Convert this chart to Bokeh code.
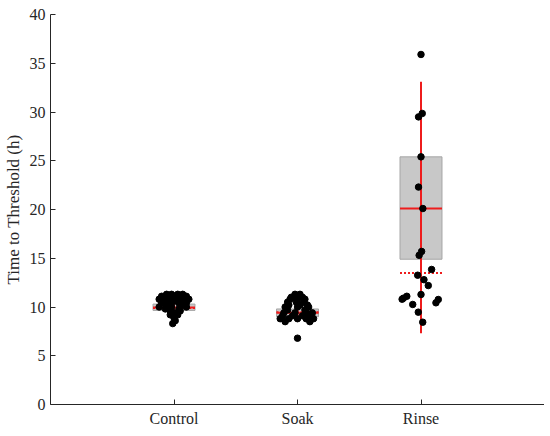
from bokeh.plotting import figure
from bokeh.models import ColumnDataSource, FixedTicker, Range1d
from bokeh.embed import file_html
from bokeh.resources import INLINE

# ---- data ----
categories = ["Control", "Soak", "Rinse"]
cat_pos = [1, 2, 3]

control_values = [11.3, 11.3, 11.3, 11.3, 11.1, 11.1, 11.1, 11.0, 11.0,
                  10.8, 10.8, 10.8, 10.8, 10.6, 10.6, 10.6, 10.4, 10.4, 10.4, 10.4,
                  10.2, 10.2, 10.0, 10.0, 10.0, 9.8, 9.8, 9.6, 9.6, 9.4,
                  9.2, 9.2, 8.9, 8.6, 8.3]
control_jitter = [-0.06, -0.02, 0.03, 0.07, -0.10, 0.0, 0.10, -0.05, 0.05,
                  -0.12, -0.03, 0.03, 0.12, -0.08, 0.0, 0.08, -0.10, -0.03, 0.04, 0.10,
                  -0.06, 0.06, -0.12, -0.02, 0.10, -0.07, 0.04, -0.03, 0.05, 0.0,
                  -0.03, 0.03, 0.0, 0.01, -0.01]

soak_values = [11.3, 11.3, 11.0, 11.0, 10.8, 10.8, 10.8, 10.5, 10.5, 10.5,
               10.2, 10.2, 10.2, 10.0, 10.0, 10.0, 9.7, 9.7,
               9.4, 9.4, 9.4, 9.4, 9.1, 9.1, 9.1, 9.1,
               8.8, 8.8, 8.8, 8.8, 8.8, 8.5, 8.5, 6.8]
soak_jitter = [-0.02, 0.02, -0.05, 0.04, -0.06, 0.0, 0.06, -0.08, -0.01, 0.05,
               -0.07, 0.02, 0.08, -0.10, 0.0, 0.09, -0.08, 0.06,
               -0.11, -0.02, 0.07, 0.12, -0.12, -0.04, 0.04, 0.11,
               -0.14, -0.07, 0.0, 0.07, 0.13, -0.10, 0.10, 0.0]

rinse_values = [35.9, 29.85, 29.5, 25.4, 22.3, 20.1, 15.7, 15.3, 13.85, 13.26,
                12.8, 12.2, 11.28, 11.1, 10.9, 10.8, 10.26, 10.77, 10.43, 9.47, 8.44]
rinse_jitter = [0.0, 0.01, -0.02, 0.0, -0.02, 0.015, 0.005, -0.015, 0.086, -0.027,
                0.024, 0.059, 0.0, -0.115, -0.143, -0.153, -0.067, 0.14, 0.121, -0.022, 0.014]

# summary statistics
means = [9.95, 9.4, 20.1]
ci_low = [9.65, 9.0, 14.9]
ci_high = [10.3, 9.8, 25.4]
sd_low = [9.2, 8.5, 7.3]
sd_high = [10.7, 10.3, 33.1]
medians = [9.9, 9.45, 13.5]

half_w = 0.17
serif = "Liberation Serif"

p = figure(frame_width=494, frame_height=390, output_backend="svg", toolbar_location=None,
           x_range=Range1d(0, 4), y_range=Range1d(0, 40),
           min_border_left=41, min_border_top=14, min_border_right=0, min_border_bottom=16)
p.outline_line_color = None
p.xgrid.visible = False
p.ygrid.visible = False

# boxes (CI)
box_src = ColumnDataSource(dict(x=cat_pos, bottom=ci_low, top=ci_high))
p.vbar(x="x", bottom="bottom", top="top", width=2 * half_w, source=box_src,
       fill_color="#c8c8c8", line_color="#a6a6a6", line_width=1)

# SD whisker
wsrc = ColumnDataSource(dict(x=cat_pos, y0=sd_low, y1=sd_high))
p.segment(x0="x", y0="y0", x1="x", y1="y1", source=wsrc, line_color="#ee1c1c", line_width=2)

# mean line
msrc = ColumnDataSource(dict(x0=[c - half_w for c in cat_pos], x1=[c + half_w for c in cat_pos], y=means))
p.segment(x0="x0", y0="y", x1="x1", y1="y", source=msrc, line_color="#ee1c1c", line_width=2)

# median dotted line
dsrc = ColumnDataSource(dict(x0=[c - half_w for c in cat_pos], x1=[c + half_w for c in cat_pos], y=medians))
p.segment(x0="x0", y0="y", x1="x1", y1="y", source=dsrc, line_color="#ee1c1c", line_width=2,
          line_dash="2 2")

# points
for pos, vals, jit in [(1, control_values, control_jitter), (2, soak_values, soak_jitter),
                       (3, rinse_values, rinse_jitter)]:
    src = ColumnDataSource(dict(x=[pos + j for j in jit], y=vals))
    p.scatter(x="x", y="y", source=src, size=6.5, fill_color="black", line_color="black")

# axes
p.xaxis.ticker = FixedTicker(ticks=cat_pos)
p.xaxis.major_label_overrides = {c: lab for c, lab in zip(cat_pos, categories)}
p.yaxis.ticker = FixedTicker(ticks=list(range(0, 41, 5)))
p.yaxis.axis_label = "Time to Threshold (h)"
for ax in (p.xaxis[0], p.yaxis[0]):
    ax.major_tick_in = 5
    ax.major_tick_out = 0
    ax.minor_tick_in = 0
    ax.minor_tick_out = 0
    ax.axis_line_color = "#262626"
    ax.major_tick_line_color = "#262626"
    ax.major_label_text_font = serif
    ax.major_label_text_font_size = "16px"
    ax.major_label_text_color = "#262626"
    ax.axis_label_text_font = serif
    ax.axis_label_text_font_size = "17px"
    ax.axis_label_text_font_style = "normal"
    ax.axis_label_text_color = "#262626"
p.yaxis.major_label_standoff = 5
p.yaxis.axis_label_standoff = 4
p.xaxis.major_label_standoff = 5

open("out.html", "w").write(file_html(p, INLINE))
